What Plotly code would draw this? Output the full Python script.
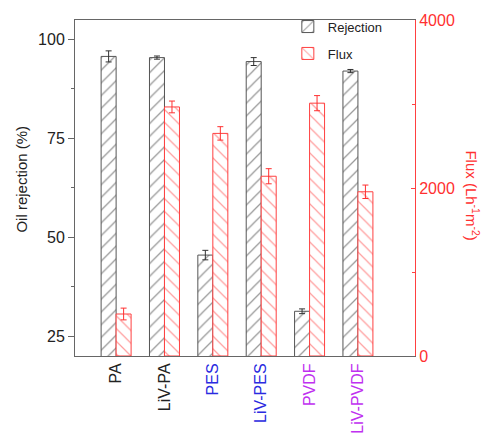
import plotly.graph_objects as go

categories = ["PA", "LiV-PA", "PES", "LiV-PES", "PVDF", "LiV-PVDF"]
label_colors = ["#222222", "#222222", "#2a2ae0", "#2a2ae0", "#c030f0", "#c030f0"]
rejection = [95.7, 95.4, 45.5, 94.4, 31.3, 92.0]
rejection_err = [1.4, 0.4, 1.2, 1.0, 0.6, 0.4]
flux = [500, 2965, 2650, 2140, 3010, 1955]
flux_err = [70, 70, 80, 90, 90, 80]

x = list(range(len(categories)))
ticktext = [f'<span style="color:{c}">{t}</span>' for t, c in zip(categories, label_colors)]

fig = go.Figure()
fig.add_trace(go.Bar(
    x=x, y=rejection, name="Rejection", yaxis="y", width=0.31, offset=-0.31,
    legendgroup="r",
    marker=dict(color="white", line=dict(color="#555555", width=1),
                pattern=dict(shape="/", fgcolor="#333333", bgcolor="white", size=9, solidity=0.14)),
    error_y=dict(type="data", array=rejection_err, color="#333333", thickness=1, width=3),
))
fig.add_trace(go.Bar(
    x=x, y=flux, name="Flux", yaxis="y2", width=0.31, offset=0,
    legendgroup="f",
    marker=dict(color="white", line=dict(color="#ff4040", width=1),
                pattern=dict(shape="\\", fgcolor="#ff4040", bgcolor="white", size=9, solidity=0.14)),
    error_y=dict(type="data", array=flux_err, color="#ff3030", thickness=1, width=3),
))

fig.update_layout(
    width=485, height=446,
    margin=dict(l=75, r=70, t=20, b=87),
    paper_bgcolor="white", plot_bgcolor="white",
    font=dict(family="Liberation Sans, Arial", size=15, color="#222222"),
    showlegend=True,
    legend=dict(x=0.626, y=1.025, xanchor="left", yanchor="top", bgcolor="rgba(0,0,0,0)",
                font=dict(size=13), tracegroupgap=7, itemwidth=30),
    xaxis=dict(
        range=[-0.85, 6.18], tickmode="array", tickvals=x, ticktext=ticktext,
        tickangle=-90, showgrid=False, zeroline=False, showline=True,
        linecolor="#666666", linewidth=1, mirror=True, ticks="",
        tickfont=dict(size=16),
    ),
    yaxis=dict(
        range=[20, 104.9], tickvals=[25, 50, 75, 100], showgrid=False, zeroline=False,
        showline=True, linecolor="#666666", linewidth=1, ticks="outside", ticklen=6,
        tickcolor="#666666",
        minor=dict(tickvals=[37.5, 62.5, 87.5], ticks="outside", ticklen=3, tickcolor="#666666"),
        tickfont=dict(size=16),
    ),
    yaxis2=dict(
        overlaying="y", side="right", range=[0, 4000], tickvals=[0, 2000, 4000],
        showgrid=False, zeroline=False, showline=True, linecolor="#ff4040", linewidth=1,
        ticks="inside", ticklen=4, tickcolor="#ff4040",
        minor=dict(tickvals=[1000, 3000], ticks="inside", ticklen=3, tickcolor="#ff4040"),
        tickfont=dict(size=16, color="#ff3030"),
    ),
    annotations=[
        dict(text="Oil rejection (%)", xref="paper", yref="paper",
             x=(22 - 75) / 340, y=(359 - 181) / 339, xanchor="center", yanchor="middle",
             textangle=-90, showarrow=False, font=dict(size=15, color="#222222")),
        dict(text="Flux (Lh<sup>-1</sup>m<sup>-2</sup>)", xref="paper", yref="paper",
             x=(473 - 75) / 340, y=(359 - 197) / 339, xanchor="center", yanchor="middle",
             textangle=90, showarrow=False, font=dict(size=15, color="#ff3030")),
    ],
)

fig.write_html("out.html", config={"displayModeBar": False},
               post_script="document.body.style.margin='0';")
